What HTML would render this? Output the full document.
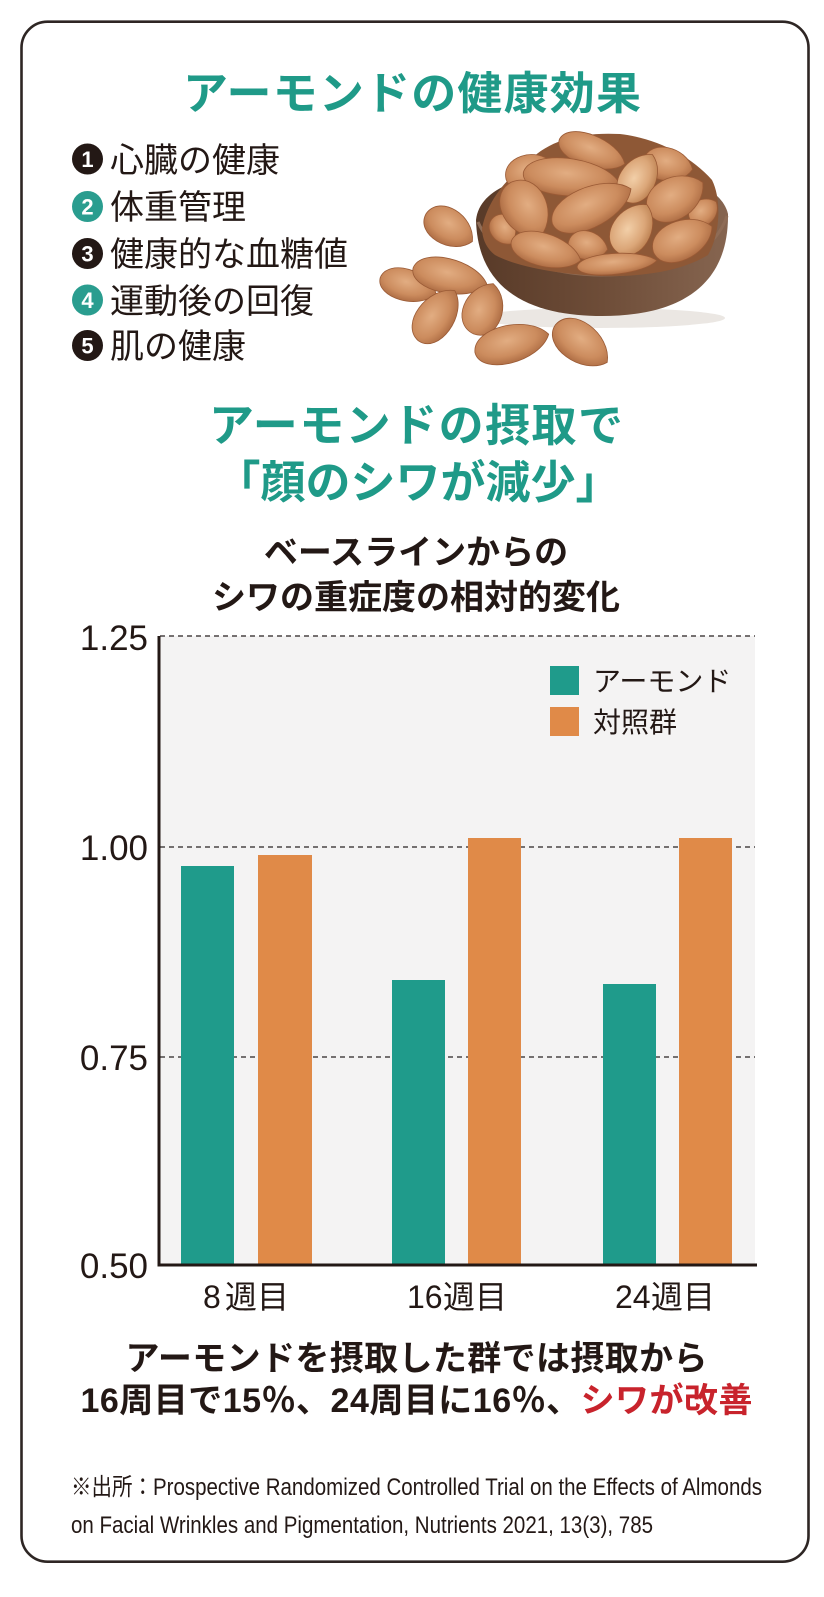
<!DOCTYPE html>
<html lang="ja">
<head>
<meta charset="utf-8">
<style>
html,body{margin:0;padding:0;background:#fff;}
svg{display:block;}
.jp{font-family:"Liberation Sans","Noto Sans CJK JP",sans-serif;}
</style>
</head>
<body>
<svg width="824" height="1597" viewBox="0 0 824 1597" xmlns="http://www.w3.org/2000/svg">
<defs>
  <radialGradient id="alm" cx="0.45" cy="0.4" r="0.65">
    <stop offset="0" stop-color="#e2ad82"/>
    <stop offset="0.6" stop-color="#cc8c5e"/>
    <stop offset="1" stop-color="#a8673f"/>
  </radialGradient>
  <radialGradient id="almL" cx="0.45" cy="0.4" r="0.65">
    <stop offset="0" stop-color="#f2cfa8"/>
    <stop offset="0.6" stop-color="#dba678"/>
    <stop offset="1" stop-color="#b77a4a"/>
  </radialGradient>
  <linearGradient id="bowl" x1="0" y1="0" x2="1" y2="0">
    <stop offset="0" stop-color="#583a28"/>
    <stop offset="0.5" stop-color="#6e4d38"/>
    <stop offset="1" stop-color="#866550"/>
  </linearGradient>
</defs>

<rect width="824" height="1597" fill="#fff"/>
<!-- frame -->
<rect x="21.5" y="21.7" width="787" height="1540" rx="26" ry="26" fill="none" stroke="#2e2624" stroke-width="2.6"/>

<!-- title -->
<text class="jp" x="412" y="109" text-anchor="middle" font-size="45" font-weight="700" fill="#1f9a88" textLength="458">アーモンドの健康効果</text>

<!-- list -->
<g class="jp">
  <circle cx="87.5" cy="159" r="15.5" fill="#231815"/>
  <text x="87.5" y="167" text-anchor="middle" font-size="22" font-weight="700" fill="#fff" font-family="Liberation Sans, sans-serif">1</text>
  <text x="110" y="172" font-size="34" fill="#231815">心臓の健康</text>

  <circle cx="87.5" cy="206.5" r="15.5" fill="#2a9d8f"/>
  <text x="87.5" y="214.5" text-anchor="middle" font-size="22" font-weight="700" fill="#fff" font-family="Liberation Sans, sans-serif">2</text>
  <text x="110" y="219" font-size="34" fill="#231815">体重管理</text>

  <circle cx="87.5" cy="253.5" r="15.5" fill="#231815"/>
  <text x="87.5" y="261.5" text-anchor="middle" font-size="22" font-weight="700" fill="#fff" font-family="Liberation Sans, sans-serif">3</text>
  <text x="110" y="266" font-size="34" fill="#231815">健康的な血糖値</text>

  <circle cx="87.5" cy="300" r="15.5" fill="#2a9d8f"/>
  <text x="87.5" y="308" text-anchor="middle" font-size="22" font-weight="700" fill="#fff" font-family="Liberation Sans, sans-serif">4</text>
  <text x="110" y="313" font-size="34" fill="#231815">運動後の回復</text>

  <circle cx="87.5" cy="345.5" r="15.5" fill="#231815"/>
  <text x="87.5" y="353.5" text-anchor="middle" font-size="22" font-weight="700" fill="#fff" font-family="Liberation Sans, sans-serif">5</text>
  <text x="110" y="358" font-size="34" fill="#231815">肌の健康</text>
</g>

<!-- almond bowl illustration -->
<g>
  <ellipse cx="600" cy="318" rx="125" ry="10" fill="#ebe7e3"/>
  <path d="M476,220 C478,300 545,316 602,316 C665,316 729,296 728,214 C720,180 660,170 602,170 C540,170 480,182 476,220 Z" fill="url(#bowl)"/>
  <path d="M478,222 C495,262 560,275 602,275 C650,275 712,262 727,216" fill="none" stroke="#8f6c56" stroke-width="3"/>
  <!-- pile shadow base -->
  <path d="M482,228 C488,200 505,180 530,160 C550,140 580,132 620,134 C655,138 690,155 712,180 C722,200 720,235 708,255 C680,272 640,277 600,276 C555,274 515,266 495,255 C486,248 482,238 482,228 Z" fill="#8e5836"/>
  <g stroke="#9a5a35" stroke-width="0.8">
    <!-- in bowl -->
    <path transform="translate(530,172) rotate(-20) scale(25,23)" d="M1,0 C0.6,-1 -0.9,-1.05 -1,-0.05 C-1,0.95 0.6,1 1,0 Z" fill="url(#alm)" vector-effect="non-scaling-stroke"/>
    <path transform="translate(668,165) rotate(10) scale(25,22)" d="M1,0 C0.6,-1 -0.9,-1.05 -1,-0.05 C-1,0.95 0.6,1 1,0 Z" fill="url(#alm)" vector-effect="non-scaling-stroke"/>
    <path transform="translate(704,212) rotate(-40) scale(16,17)" d="M1,0 C0.6,-1 -0.9,-1.05 -1,-0.05 C-1,0.95 0.6,1 1,0 Z" fill="url(#alm)" vector-effect="non-scaling-stroke"/>
    <path transform="translate(592,152) rotate(20) scale(35,21)" d="M1,0 C0.6,-1 -0.9,-1.05 -1,-0.05 C-1,0.95 0.6,1 1,0 Z" fill="url(#alm)" vector-effect="non-scaling-stroke"/>
    <path transform="translate(571,178) rotate(5) scale(48,25)" d="M1,0 C0.6,-1 -0.9,-1.05 -1,-0.05 C-1,0.95 0.6,1 1,0 Z" fill="url(#alm)" vector-effect="non-scaling-stroke"/>
    <path transform="translate(639,178) rotate(-60) scale(27,24)" d="M1,0 C0.6,-1 -0.9,-1.05 -1,-0.05 C-1,0.95 0.6,1 1,0 Z" fill="url(#almL)" vector-effect="non-scaling-stroke"/>
    <path transform="translate(676,198) rotate(-30) scale(31,28)" d="M1,0 C0.6,-1 -0.9,-1.05 -1,-0.05 C-1,0.95 0.6,1 1,0 Z" fill="url(#alm)" vector-effect="non-scaling-stroke"/>
    <path transform="translate(503,230) rotate(60) scale(16,17)" d="M1,0 C0.6,-1 -0.9,-1.05 -1,-0.05 C-1,0.95 0.6,1 1,0 Z" fill="url(#alm)" vector-effect="non-scaling-stroke"/>
    <path transform="translate(525,210) rotate(60) scale(31,30)" d="M1,0 C0.6,-1 -0.9,-1.05 -1,-0.05 C-1,0.95 0.6,1 1,0 Z" fill="url(#alm)" vector-effect="non-scaling-stroke"/>
    <path transform="translate(592,207) rotate(-25) scale(43,27)" d="M1,0 C0.6,-1 -0.9,-1.05 -1,-0.05 C-1,0.95 0.6,1 1,0 Z" fill="url(#alm)" vector-effect="non-scaling-stroke"/>
    <path transform="translate(633,229) rotate(-60) scale(28,26)" d="M1,0 C0.6,-1 -0.9,-1.05 -1,-0.05 C-1,0.95 0.6,1 1,0 Z" fill="url(#almL)" vector-effect="non-scaling-stroke"/>
    <path transform="translate(683,240) rotate(-25) scale(32,26)" d="M1,0 C0.6,-1 -0.9,-1.05 -1,-0.05 C-1,0.95 0.6,1 1,0 Z" fill="url(#alm)" vector-effect="non-scaling-stroke"/>
    <path transform="translate(588,246) rotate(10) scale(20,19)" d="M1,0 C0.6,-1 -0.9,-1.05 -1,-0.05 C-1,0.95 0.6,1 1,0 Z" fill="url(#alm)" vector-effect="non-scaling-stroke"/>
    <path transform="translate(546,251) rotate(15) scale(36,22)" d="M1,0 C0.6,-1 -0.9,-1.05 -1,-0.05 C-1,0.95 0.6,1 1,0 Z" fill="url(#alm)" vector-effect="non-scaling-stroke"/>
    <path transform="translate(617,264) rotate(-5) scale(40,14)" d="M1,0 C0.6,-1 -0.9,-1.05 -1,-0.05 C-1,0.95 0.6,1 1,0 Z" fill="url(#alm)" vector-effect="non-scaling-stroke"/>
    <!-- loose -->
    <path transform="translate(408,286) rotate(15) scale(29,21)" d="M1,0 C0.6,-1 -0.9,-1.05 -1,-0.05 C-1,0.95 0.6,1 1,0 Z" fill="url(#alm)" vector-effect="non-scaling-stroke"/>
    <path transform="translate(450,277) rotate(12) scale(38,23)" d="M1,0 C0.6,-1 -0.9,-1.05 -1,-0.05 C-1,0.95 0.6,1 1,0 Z" fill="url(#alm)" vector-effect="non-scaling-stroke"/>
    <path transform="translate(449,228) rotate(30) scale(27,24)" d="M1,0 C0.6,-1 -0.9,-1.05 -1,-0.05 C-1,0.95 0.6,1 1,0 Z" fill="url(#alm)" vector-effect="non-scaling-stroke"/>
    <path transform="translate(437,316) rotate(-55) scale(31,25)" d="M1,0 C0.6,-1 -0.9,-1.05 -1,-0.05 C-1,0.95 0.6,1 1,0 Z" fill="url(#alm)" vector-effect="non-scaling-stroke"/>
    <path transform="translate(484,309) rotate(-70) scale(27,26)" d="M1,0 C0.6,-1 -0.9,-1.05 -1,-0.05 C-1,0.95 0.6,1 1,0 Z" fill="url(#alm)" vector-effect="non-scaling-stroke"/>
    <path transform="translate(512,344) rotate(-15) scale(38,25)" d="M1,0 C0.6,-1 -0.9,-1.05 -1,-0.05 C-1,0.95 0.6,1 1,0 Z" fill="url(#alm)" vector-effect="non-scaling-stroke"/>
    <path transform="translate(581,344) rotate(35) scale(32,26)" d="M1,0 C0.6,-1 -0.9,-1.05 -1,-0.05 C-1,0.95 0.6,1 1,0 Z" fill="url(#alm)" vector-effect="non-scaling-stroke"/>
  </g>
</g>

<!-- section title -->
<text class="jp" x="416" y="441" text-anchor="middle" font-size="45" font-weight="700" fill="#1f9a88" textLength="414">アーモンドの摂取で</text>
<text class="jp" x="418" y="498" text-anchor="middle" font-size="45" font-weight="700" fill="#1f9a88">「顔のシワが減少」</text>

<!-- chart title -->
<text class="jp" x="416" y="564" text-anchor="middle" font-size="34" font-weight="700" fill="#231815">ベースラインからの</text>
<text class="jp" x="416" y="609" text-anchor="middle" font-size="34" font-weight="700" fill="#231815">シワの重症度の相対的変化</text>

<!-- plot -->
<rect x="159" y="636" width="596" height="629" fill="#f4f3f3"/>
<g stroke="#4a4444" stroke-width="1.4" stroke-dasharray="5,4">
  <line x1="160" y1="636" x2="755" y2="636"/>
  <line x1="160" y1="847" x2="755" y2="847"/>
  <line x1="160" y1="1057" x2="755" y2="1057"/>
</g>

<!-- bars -->
<g>
  <rect x="181" y="866" width="53" height="399" fill="#1f9b8b"/>
  <rect x="258" y="855" width="54" height="410" fill="#e08a48"/>
  <rect x="392" y="980" width="53" height="285" fill="#1f9b8b"/>
  <rect x="468" y="838" width="53" height="427" fill="#e08a48"/>
  <rect x="603" y="984" width="53" height="281" fill="#1f9b8b"/>
  <rect x="679" y="838" width="53" height="427" fill="#e08a48"/>
</g>

<!-- axes -->
<line x1="159" y1="636" x2="159" y2="1266.5" stroke="#231815" stroke-width="3"/>
<line x1="157.5" y1="1265" x2="757" y2="1265" stroke="#231815" stroke-width="3"/>

<!-- y tick labels -->
<g font-family="Liberation Sans, sans-serif" font-size="35" fill="#231815" text-anchor="end">
  <text x="148" y="650">1.25</text>
  <text x="148" y="860">1.00</text>
  <text x="148" y="1070">0.75</text>
  <text x="148" y="1278">0.50</text>
</g>

<!-- x labels -->
<g class="jp" font-size="32" fill="#231815">
  <text x="203" y="1308">8</text>
  <text x="225" y="1308">週目</text>
  <text x="407" y="1308">16</text>
  <text x="443" y="1308">週目</text>
  <text x="615" y="1308">24</text>
  <text x="651" y="1308">週目</text>
</g>

<!-- legend -->
<rect x="550" y="666" width="29" height="29" fill="#1f9b8b"/>
<rect x="550" y="707" width="29" height="29" fill="#e08a48"/>
<text class="jp" x="593" y="691" font-size="28" fill="#231815">アーモンド</text>
<text class="jp" x="593" y="732" font-size="28" fill="#231815">対照群</text>

<!-- conclusion -->
<text class="jp" x="416.5" y="1370" text-anchor="middle" font-size="34" font-weight="700" fill="#231815" textLength="582">アーモンドを摂取した群では摂取から</text>
<text class="jp" x="416.5" y="1412" text-anchor="middle" font-size="34" font-weight="700" fill="#231815" textLength="672">16周目で15％、24周目に16％、<tspan fill="#c8232c">シワが改善</tspan></text>

<!-- citation -->
<text class="jp" x="71" y="1495" font-size="24" fill="#231815" textLength="691" lengthAdjust="spacingAndGlyphs">※出所：Prospective Randomized Controlled Trial on the Effects of Almonds</text>
<text class="jp" x="71" y="1533" font-size="24" fill="#231815" textLength="582" lengthAdjust="spacingAndGlyphs">on Facial Wrinkles and Pigmentation, Nutrients 2021, 13(3), 785</text>
</svg>
</body>
</html>
